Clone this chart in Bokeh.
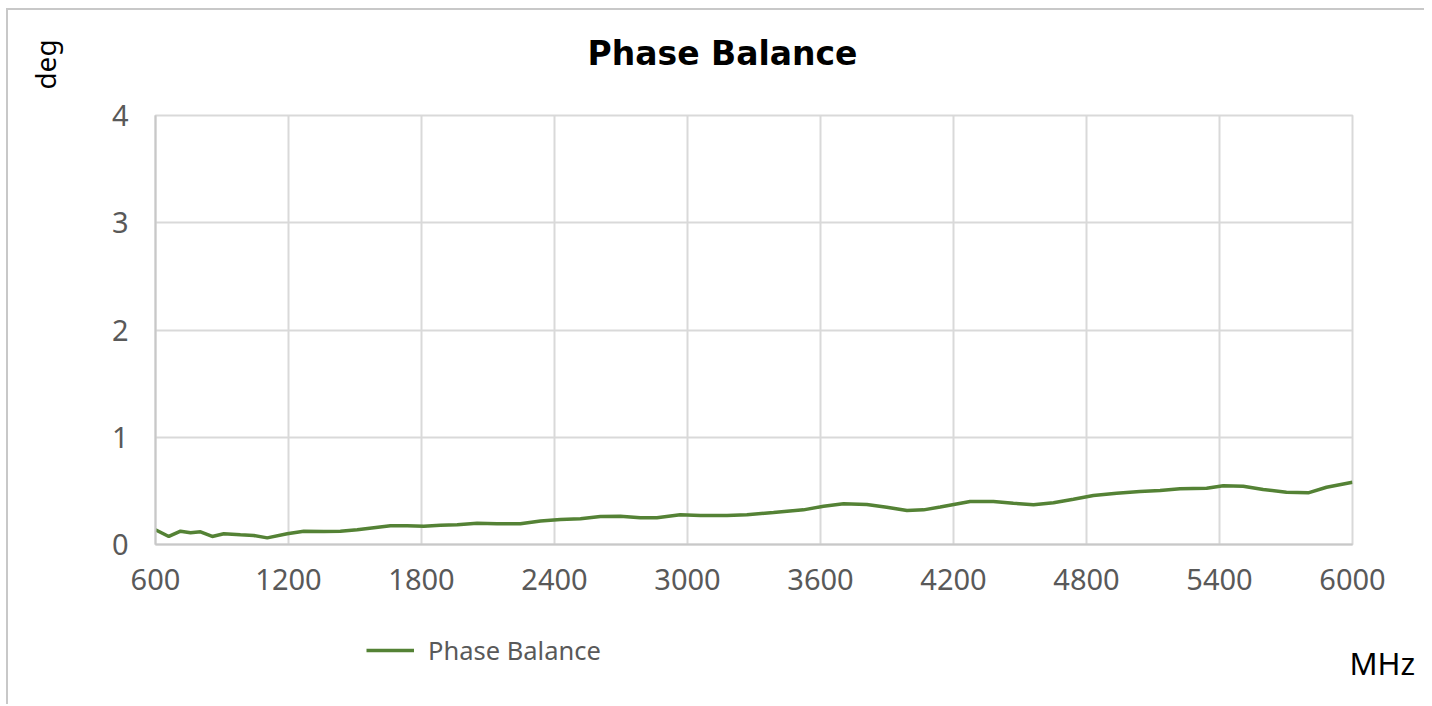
from bokeh.plotting import figure
from bokeh.models import Range1d, Legend, LegendItem, FixedTicker, Label
from bokeh.layouts import column
from bokeh.embed import file_html
from bokeh.resources import INLINE

freq_mhz = [600, 660, 713, 758, 803, 856, 908, 983, 1043, 1104, 1194, 1269, 1359, 1434,
            1510, 1585, 1660, 1735, 1810, 1885, 1961, 2051, 2141, 2246, 2337, 2427, 2517,
            2607, 2697, 2787, 2862, 2967, 3058, 3178, 3268, 3388, 3523, 3614, 3704, 3809,
            3899, 3990, 4065, 4140, 4275, 4380, 4470, 4561, 4651, 4741, 4831, 4936, 5041,
            5132, 5222, 5342, 5417, 5507, 5597, 5702, 5800, 5883, 6000]
phase_balance = [0.137, 0.075, 0.124, 0.109, 0.118, 0.075, 0.100, 0.090, 0.084, 0.062, 0.100,
                 0.124, 0.121, 0.124, 0.137, 0.156, 0.174, 0.174, 0.171, 0.180, 0.184, 0.199,
                 0.193, 0.193, 0.220, 0.233, 0.240, 0.261, 0.264, 0.249, 0.249, 0.277, 0.270,
                 0.270, 0.277, 0.298, 0.323, 0.357, 0.379, 0.373, 0.348, 0.317, 0.323, 0.350,
                 0.401, 0.401, 0.385, 0.370, 0.389, 0.422, 0.457, 0.478, 0.494, 0.503, 0.519,
                 0.525, 0.547, 0.544, 0.513, 0.488, 0.482, 0.534, 0.581]
x_ticks = [600, 1200, 1800, 2400, 3000, 3600, 4200, 4800, 5400, 6000]
y_ticks = [0, 1, 2, 3, 4]
series_name = "Phase Balance"
title_text = "Phase Balance"
y_label = "deg"
x_label = "MHz"

FONT = "Noto Sans"
GRID = "#d9d9d9"
LINE = "#548235"
TICK_COLOR = "#595959"
W = 1416


def no_frame_align(f):
    try:
        f.frame_align = False
    except Exception:
        pass


def blank(height):
    f = figure(width=W, height=height, output_backend="svg", toolbar_location=None,
               x_range=Range1d(0, W), y_range=Range1d(0, height),
               x_axis_type=None, y_axis_type=None, min_border=0,
               min_border_left=0, min_border_right=0, min_border_top=0, min_border_bottom=0)
    f.outline_line_color = None
    f.xgrid.visible = False
    f.ygrid.visible = False
    f.background_fill_color = "white"
    f.border_fill_color = "white"
    no_frame_align(f)
    return f


# ---- top strip: title and unit of the y axis
top = blank(80)
top.add_layout(Label(x=714, y=37, x_units="screen", y_units="screen", text=title_text,
                     text_align="center", text_baseline="alphabetic",
                     text_font="DejaVu Sans", text_font_style="bold",
                     text_font_size="33px", text_color="black"))
top.add_layout(Label(x=36, y=26, x_units="screen", y_units="screen", text=y_label,
                     angle=1.5707963, text_align="center", text_baseline="middle",
                     text_font=FONT, text_font_size="28px", text_color="black"))

# ---- main chart
p = figure(width=W, height=525, output_backend="svg", toolbar_location=None,
           x_range=Range1d(600, 6000), y_range=Range1d(0, 4),
           min_border_left=147, min_border_right=72, min_border_top=25, min_border_bottom=71)
p.background_fill_color = "white"
p.border_fill_color = "white"
p.outline_line_color = GRID
p.outline_line_width = 2
no_frame_align(p)

for ax in (p.xaxis[0], p.yaxis[0]):
    ax.axis_line_color = "#c8c8c8"
    ax.axis_line_width = 2
    ax.major_tick_line_color = None
    ax.minor_tick_line_color = None
    ax.major_label_text_font = FONT
    ax.major_label_text_font_size = "29px"
    ax.major_label_text_color = TICK_COLOR
p.xaxis[0].ticker = FixedTicker(ticks=x_ticks)
p.yaxis[0].ticker = FixedTicker(ticks=y_ticks)
p.xaxis[0].major_label_standoff = 18
p.yaxis[0].major_label_standoff = 21

p.xgrid.grid_line_color = GRID
p.ygrid.grid_line_color = GRID
p.xgrid.grid_line_width = 2
p.ygrid.grid_line_width = 2

p.line(freq_mhz, phase_balance, line_color=LINE, line_width=3.5)

# ---- bottom strip: legend and unit of the x axis
bot = blank(89)
legend_line = bot.line([float("nan")], [float("nan")], line_color=LINE, line_width=3.5)
legend = Legend(items=[LegendItem(label=series_name, renderers=[legend_line])],
                location=(358, 37), padding=0, margin=0, spacing=0,
                border_line_color=None, background_fill_alpha=0,
                glyph_width=48, label_standoff=14,
                label_text_font=FONT, label_text_font_size="25.5px",
                label_text_color=TICK_COLOR)
bot.add_layout(legend, "center")
bot.add_layout(Label(x=1341, y=42, x_units="screen", y_units="screen", text=x_label,
                     text_align="left", text_baseline="alphabetic",
                     text_font=FONT, text_font_size="31px", text_color="black"))

layout = column(top, p, bot, spacing=0)
layout.styles = {"margin-top": "8px", "margin-left": "6px",
                 "border-top": "2px solid #c8c8c8", "border-left": "2px solid #c8c8c8"}

open("out.html", "w").write(file_html(layout, INLINE))
